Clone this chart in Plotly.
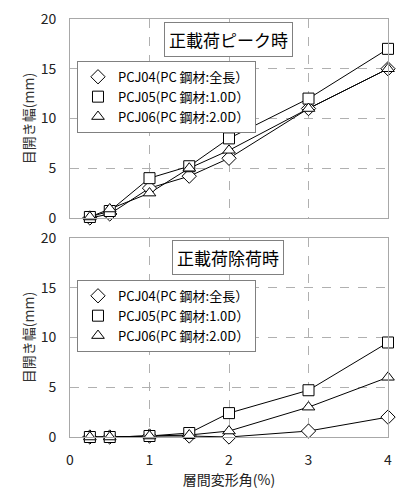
import plotly.graph_objects as go
from plotly.subplots import make_subplots

drift = [0.25, 0.5, 1, 1.5, 2, 3, 4]
names = ["PCJ04(PC 鋼材:全長）", "PCJ05(PC 鋼材:1.0D）", "PCJ06(PC 鋼材:2.0D）"]
symbols = ["diamond", "square", "triangle-up"]

peak_pcj04 = [0.0, 0.4, 3.0, 4.2, 6.0, 11.0, 15.0]
peak_pcj05 = [0.1, 0.7, 4.0, 5.2, 8.0, 12.0, 17.0]
peak_pcj06 = [0.1, 0.9, 2.5, 5.0, 6.8, 11.0, 15.0]

unl_pcj04 = [0.0, 0.0, 0.1, 0.1, 0.0, 0.6, 2.0]
unl_pcj05 = [0.0, 0.0, 0.1, 0.4, 2.4, 4.7, 9.5]
unl_pcj06 = [0.0, 0.0, 0.1, 0.2, 0.6, 3.0, 6.0]

panel_titles = ["正載荷ピーク時", "正載荷除荷時"]
x_title = "層間変形角(%)"
y_title = "目開き幅(mm)"

JP = "Noto Sans CJK JP"

fig = make_subplots(rows=2, cols=1, shared_xaxes=False, vertical_spacing=0.048)

panels = [[peak_pcj04, peak_pcj05, peak_pcj06], [unl_pcj04, unl_pcj05, unl_pcj06]]
for r, series in enumerate(panels, start=1):
    leg = "legend" if r == 1 else "legend2"
    for ys in series:
        fig.add_trace(go.Scatter(
            x=drift, y=ys, mode="lines", line=dict(color="black", width=1),
            showlegend=False, hoverinfo="skip", cliponaxis=False), row=r, col=1)
    for name, sym, ys in zip(names, symbols, series):
        fig.add_trace(go.Scatter(
            x=drift, y=ys, mode="markers", name=name, legend=leg, cliponaxis=False,
            marker=dict(symbol=sym, size=11, color="white",
                        line=dict(color="black", width=1))), row=r, col=1)

axis_common = dict(showgrid=True, gridcolor="#b0b0b0", griddash="dash", gridwidth=1,
                   showline=True, linecolor="#a8a8a8", linewidth=1, mirror=True,
                   zeroline=False, ticks="", automargin=False,
                   tickfont=dict(family=JP, size=14, color="#222"))

for r in (1, 2):
    fig.update_xaxes(range=[0, 4], dtick=1, ticklabelstandoff=10, **axis_common, row=r, col=1)
    fig.update_yaxes(range=[0, 20], dtick=5, ticklabelstandoff=10, **axis_common, row=r, col=1,
                     title=dict(text=y_title, font=dict(family=JP, size=14, color="#333"), standoff=2))
fig.update_xaxes(showticklabels=False, row=1, col=1)
fig.update_xaxes(title=dict(text=x_title, font=dict(family=JP, size=14, color="#222"), standoff=6), row=2, col=1)

legend_style = dict(bgcolor="white", bordercolor="#808080", borderwidth=1,
                    font=dict(family=JP, size=13, color="black"),
                    xanchor="left", yanchor="top", itemwidth=30, tracegroupgap=0)

fig.update_layout(
    width=396, height=492,
    margin=dict(l=70, r=8, t=19, b=55),
    plot_bgcolor="white", paper_bgcolor="white",
    legend=dict(x=0.022, y=0.9, **legend_style),
    legend2=dict(x=0.022, y=0.376, **legend_style),
)

for txt, yy in zip(panel_titles, [0.952, 0.429]):
    fig.add_annotation(text=txt, xref="paper", yref="paper", x=0.497, y=yy,
                       showarrow=False, font=dict(family=JP, size=17, color="black"),
                       bgcolor="white", bordercolor="#808080", borderwidth=1, borderpad=4,
                       xanchor="center", yanchor="middle")

fig.write_html("out.html", config={"displayModeBar": False},
               post_script="document.body.style.margin='0';document.body.style.overflow='hidden';")
